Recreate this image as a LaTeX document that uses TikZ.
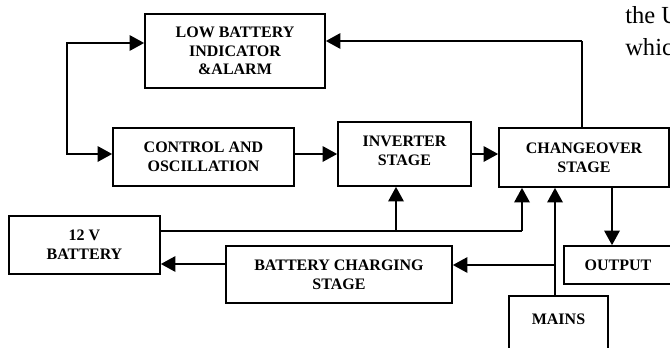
\documentclass[tikz,border=0pt]{standalone}
\usepackage{fontspec}
\setmainfont{Liberation Serif}
\usetikzlibrary{arrows.meta}
\tikzset{
  blk/.style={draw, line width=1.2pt, inner sep=0pt, align=center,
    font=\bfseries\fontsize{12}{14}\selectfont},
  lab/.style={align=center, inner sep=0pt, font=\bfseries\fontsize{12}{14}\selectfont},
  tip/.style={Triangle[length=11pt,width=11.5pt]},
  con/.style={line width=1.8pt, -{Triangle[length=11pt,width=11.5pt]}},
  thincon/.style={line width=1.2pt},
  pagetext/.style={anchor=base west, inner sep=0pt, font=\fontsize{18.4}{24}\selectfont},
}
\begin{document}
\begin{tikzpicture}[x=0.75pt,y=-0.75pt]
\useasboundingbox (0,0) rectangle (670,347);
\clip (0,0) rectangle (670,347);
\fill[white] (0,0) rectangle (670,347);
% boxes
\node[blk, minimum width=135pt, minimum height=55.5pt] (low) at (235,51) {LOW BATTERY\\INDICATOR\\\&ALARM};
\node[blk, minimum width=135.75pt, minimum height=43.5pt] (ctrl) at (203.5,157) {CONTROL AND\\OSCILLATION};
\node[blk, minimum width=99.75pt, minimum height=48pt,
  label={[lab, name=invlab, yshift=2.6pt]center:INVERTER\\STAGE}] (inv) at (404.5,154) {};
\node[blk, minimum width=127.5pt, minimum height=44.25pt] (chg) at (584,157.5) {CHANGEOVER\\STAGE};
\node[blk, minimum width=113.25pt, minimum height=43.5pt] (bat) at (84.5,245) {12 V\\BATTERY};
\node[blk, minimum width=169.5pt, minimum height=42.75pt] (chgst) at (339,274.5) {BATTERY CHARGING\\STAGE};
\node[blk, minimum width=81pt, minimum height=28.5pt] (out) at (618,265) {OUTPUT};
\node[blk, minimum width=74.25pt, minimum height=49.5pt,
  label={[lab, name=mainslab, anchor=north, yshift=-14pt]north:MAINS}] (mains) at (558.5,329) {};
% stray page text (cut by the page edge, as in the reference)
\node[pagetext] (pt1) at (625,23) {the U};
\node[pagetext] (pt2) at (625,55) {which};
% connectors
\draw[line width=1.8pt, {Triangle[length=11pt,width=11.5pt]}-{Triangle[length=11pt,width=11.5pt]}]
  ([yshift=6pt]low.west) -- ++(-77,0) |- ([yshift=2.25pt]ctrl.west);
\coordinate (ce) at ([yshift=2.25pt]ctrl.east);
\draw[con] (ce) -- (ce -| inv.west);
\draw[con] (inv.east) -- (inv.east -| chg.west);
\coordinate (lowe) at ([yshift=7.5pt]low.east);
\coordinate (chgn) at ([xshift=-1.5pt]chg.north);
\draw[thincon] (chgn) -- (chgn |- lowe);
\draw[con] (chgn |- lowe) -- (lowe);
\coordinate (bl) at ([yshift=10.5pt]bat.east);
\coordinate (cb) at ([xshift=-46.5pt]chg.south);
\draw[thincon] (bl) -- (bl -| cb);
\draw[con] (bl -| cb) -- (cb);
\coordinate (ib) at ([xshift=-6.375pt]inv.south);
\draw[con] (ib |- bl) -- (ib);
\coordinate (m) at ([xshift=-2.625pt]mains.north);
\draw[con] (m) -- (m |- chg.south);
\coordinate (cse) at ([yshift=7.125pt]chgst.east);
\draw[con] (cse -| m) -- (cse);
\coordinate (csw) at ([yshift=7.875pt]chgst.west);
\draw[con] (csw) -- (csw -| bat.east);
\coordinate (co) at ([xshift=21pt]chg.south);
\draw[con] (co) -- (co |- out.north);
\end{tikzpicture}
\end{document}
